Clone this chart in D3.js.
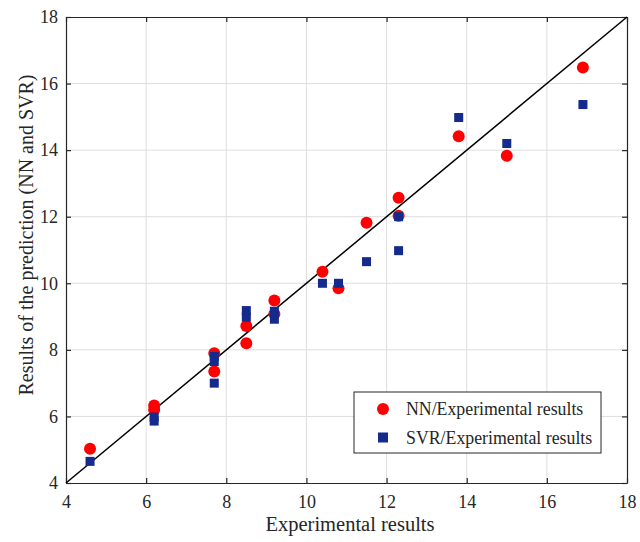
<!DOCTYPE html>
<html>
<head>
<meta charset="utf-8">
<script src="https://cdn.jsdelivr.net/npm/d3@7"></script>
<style>
  body { margin: 0; background: #fff; }
  text { font-family: "Liberation Serif", "Times New Roman", serif; fill: #262626; }
</style>
</head>
<body>
<div id="chart"></div>
<script>
// values
const nnX = [4.6, 6.2, 6.2, 7.7, 7.7, 8.5, 8.5, 9.2, 9.2, 10.4, 10.8, 11.5, 12.3, 12.3, 13.8, 15, 16.9];
const nnY = [5.03, 6.33, 6.2, 7.9, 7.35, 8.72, 8.2, 9.48, 9.08, 10.35, 9.85, 11.82, 12.57, 12.03, 14.42, 13.83, 16.48];
const svrX = [4.6, 6.2, 6.2, 7.7, 7.7, 7.7, 8.5, 8.5, 9.2, 9.2, 10.4, 10.8, 11.5, 12.3, 12.3, 13.8, 15, 16.9];
const svrY = [4.65, 5.98, 5.86, 7.8, 7.65, 7.0, 9.18, 8.98, 9.16, 8.92, 10.0, 10.0, 10.65, 12.0, 10.98, 14.98, 14.2, 15.37];
const ticks = [4, 6, 8, 10, 12, 14, 16, 18];
const legendLabels = ["NN/Experimental results", "SVR/Experimental results"];

const W = 640, H = 542;
const pLeft = 66, pRight = 627, pTop = 17, pBottom = 483;
const serif = '"Liberation Serif", "Times New Roman", serif';

const svg = d3.select("#chart").append("svg")
  .attr("width", W).attr("height", H);

const x = d3.scaleLinear().domain([4, 18]).range([pLeft, pRight]);
const y = d3.scaleLinear().domain([4, 18]).range([pBottom, pTop]);

// grid
svg.append("g").selectAll("line").data(ticks.slice(1, -1)).enter().append("line")
  .attr("x1", d => x(d)).attr("x2", d => x(d))
  .attr("y1", pTop).attr("y2", pBottom)
  .attr("stroke", "#dedede").attr("stroke-width", 1);
svg.append("g").selectAll("line").data(ticks.slice(1, -1)).enter().append("line")
  .attr("y1", d => y(d)).attr("y2", d => y(d))
  .attr("x1", pLeft).attr("x2", pRight)
  .attr("stroke", "#dedede").attr("stroke-width", 1);

// axes
let axB = svg.append("g").attr("transform", `translate(0,${pBottom})`)
  .call(d3.axisBottom(x).tickValues(ticks).tickSizeInner(-5).tickSizeOuter(0).tickPadding(12));
let axL = svg.append("g").attr("transform", `translate(${pLeft},0)`)
  .call(d3.axisLeft(y).tickValues(ticks).tickSizeInner(-5).tickSizeOuter(0).tickPadding(8));
let axT = svg.append("g").attr("transform", `translate(0,${pTop})`)
  .call(d3.axisTop(x).tickValues(ticks).tickSizeInner(-5).tickSizeOuter(0).tickFormat(""));
let axR = svg.append("g").attr("transform", `translate(${pRight},0)`)
  .call(d3.axisRight(y).tickValues(ticks).tickSizeInner(-5).tickSizeOuter(0).tickFormat(""));
[axB, axL, axT, axR].forEach(a => {
  a.attr("font-family", null);
  a.selectAll("path, line").attr("stroke", "#262626").attr("stroke-width", 1.2);
  a.selectAll("text").style("font-family", serif).style("font-size", "18px").attr("fill", "#262626");
});

// diagonal
svg.append("line")
  .attr("x1", x(4)).attr("y1", y(4)).attr("x2", x(18)).attr("y2", y(18))
  .attr("stroke", "#000").attr("stroke-width", 1.5);

// points
svg.append("g").selectAll("circle").data(nnX).enter().append("circle")
  .attr("cx", d => x(d)).attr("cy", (d, i) => y(nnY[i]))
  .attr("r", 6).attr("fill", "#ff0000");
const s = 9;
svg.append("g").selectAll("rect").data(svrX).enter().append("rect")
  .attr("x", d => x(d) - s / 2).attr("y", (d, i) => y(svrY[i]) - s / 2)
  .attr("width", s).attr("height", s).attr("fill", "#142a8c");

// labels
svg.append("text").attr("x", 350).attr("y", 531)
  .attr("text-anchor", "middle").attr("font-size", 20.5).text("Experimental results");
svg.append("text")
  .attr("transform", "translate(33,235) rotate(-90)")
  .attr("text-anchor", "middle").attr("font-size", 20).text("Results of the prediction (NN and SVR)");

// legend
const lg = svg.append("g");
lg.append("rect").attr("x", 354).attr("y", 392).attr("width", 247).attr("height", 61)
  .attr("fill", "#fff").attr("stroke", "#262626").attr("stroke-width", 1);
lg.append("circle").attr("cx", 383).attr("cy", 409).attr("r", 6).attr("fill", "#ff0000");
lg.append("rect").attr("x", 383 - 5).attr("y", 437.5 - 5).attr("width", 10).attr("height", 10).attr("fill", "#142a8c");
lg.selectAll("text").data(legendLabels).enter().append("text")
  .attr("x", 406).attr("y", (d, i) => 415 + i * 28.7)
  .attr("font-size", 17.8).text(d => d);
</script>
</body>
</html>
